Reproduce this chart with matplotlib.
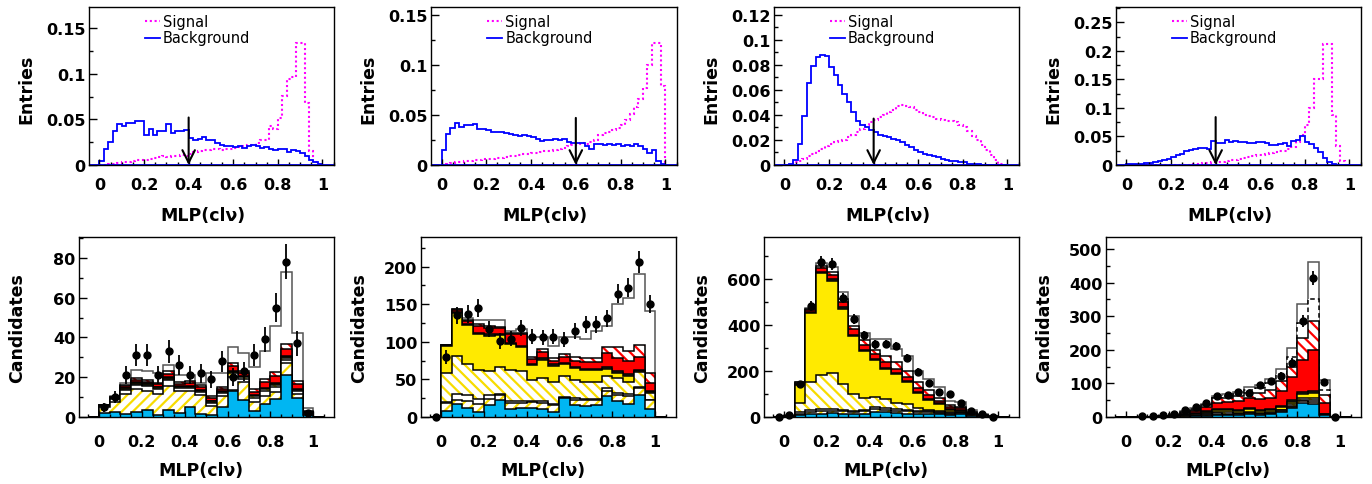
import numpy as np
import matplotlib
matplotlib.use('Agg')
import matplotlib.pyplot as plt
from matplotlib.ticker import MultipleLocator, FuncFormatter

plt.rcParams['font.family'] = ['DejaVu Sans']
plt.rcParams['font.weight'] = 'bold'
plt.rcParams['hatch.linewidth'] = 1.6

# ---------------- top row: normalised MLP output (50 bins, 0..1) ----------------
p1_sig = [0.000, 0.000, 0.001, 0.001, 0.002, 0.003, 0.003, 0.004, 0.005, 0.005,
          0.006, 0.007, 0.008, 0.009, 0.010, 0.009, 0.010, 0.010, 0.011, 0.010,
          0.012, 0.014, 0.015, 0.016, 0.016, 0.017, 0.017, 0.016, 0.018, 0.018,
          0.019, 0.020, 0.021, 0.022, 0.022, 0.024, 0.027, 0.027, 0.043, 0.039,
          0.052, 0.076, 0.094, 0.096, 0.134, 0.134, 0.068, 0.015, 0.003, 0.001]
p1_bkg = [0.004, 0.017, 0.025, 0.037, 0.045, 0.043, 0.046, 0.046, 0.048, 0.048,
          0.033, 0.039, 0.033, 0.037, 0.037, 0.045, 0.035, 0.037, 0.037, 0.038,
          0.030, 0.027, 0.029, 0.031, 0.027, 0.027, 0.024, 0.022, 0.021, 0.021,
          0.020, 0.021, 0.019, 0.021, 0.022, 0.021, 0.019, 0.020, 0.017, 0.016,
          0.018, 0.017, 0.014, 0.016, 0.015, 0.013, 0.010, 0.006, 0.003, 0.001]
p2_sig = [0.000, 0.001, 0.002, 0.003, 0.003, 0.004, 0.004, 0.005, 0.005, 0.006,
          0.006, 0.006, 0.007, 0.007, 0.008, 0.009, 0.009, 0.010, 0.011, 0.011,
          0.012, 0.012, 0.013, 0.014, 0.014, 0.015, 0.016, 0.017, 0.019, 0.020,
          0.021, 0.022, 0.021, 0.023, 0.025, 0.030, 0.032, 0.033, 0.035, 0.037,
          0.040, 0.045, 0.051, 0.058, 0.066, 0.077, 0.100, 0.122, 0.122, 0.079]
p2_bkg = [0.015, 0.031, 0.037, 0.042, 0.038, 0.040, 0.040, 0.041, 0.036, 0.036,
          0.035, 0.033, 0.033, 0.033, 0.032, 0.031, 0.030, 0.029, 0.030, 0.029,
          0.028, 0.026, 0.024, 0.025, 0.025, 0.026, 0.025, 0.026, 0.023, 0.022,
          0.022, 0.022, 0.019, 0.016, 0.021, 0.021, 0.020, 0.021, 0.020, 0.021,
          0.019, 0.020, 0.019, 0.021, 0.019, 0.016, 0.012, 0.015, 0.004, 0.001]
p3_sig = [0.000, 0.000, 0.002, 0.003, 0.005, 0.007, 0.009, 0.011, 0.013, 0.015,
          0.017, 0.018, 0.019, 0.020, 0.022, 0.024, 0.026, 0.029, 0.032, 0.034,
          0.036, 0.038, 0.040, 0.042, 0.044, 0.047, 0.048, 0.047, 0.046, 0.044,
          0.042, 0.040, 0.039, 0.038, 0.037, 0.036, 0.035, 0.035, 0.034, 0.032,
          0.030, 0.027, 0.023, 0.020, 0.016, 0.012, 0.008, 0.004, 0.001, 0.000]
p3_bkg = [0.000, 0.001, 0.004, 0.017, 0.039, 0.065, 0.079, 0.086, 0.088, 0.087,
          0.078, 0.072, 0.064, 0.057, 0.050, 0.042, 0.035, 0.032, 0.030, 0.028,
          0.026, 0.024, 0.023, 0.022, 0.021, 0.020, 0.018, 0.016, 0.014, 0.012,
          0.010, 0.009, 0.008, 0.007, 0.006, 0.005, 0.004, 0.003, 0.003, 0.002,
          0.002, 0.001, 0.001, 0.001, 0.000, 0.000, 0.000, 0.000, 0.000, 0.000]
p4_sig = [0, 0, 0, 0, 0, 0, 0, 0, 0, 0,
          0, 0, 0, 0, 0, 0.001, 0.002, 0.003, 0.004, 0.005,
          0.006, 0.006, 0.007, 0.008, 0.009, 0.010, 0.012, 0.014, 0.016, 0.017,
          0.018, 0.019, 0.021, 0.022, 0.024, 0.025, 0.028, 0.031, 0.040, 0.052,
          0.070, 0.100, 0.150, 0.150, 0.213, 0.213, 0.088, 0.034, 0.007, 0.000]
p4_bkg = [0.001, 0.002, 0.002, 0.002, 0.003, 0.004, 0.005, 0.007, 0.009, 0.011,
          0.014, 0.017, 0.020, 0.024, 0.026, 0.028, 0.029, 0.030, 0.028, 0.042,
          0.038, 0.039, 0.043, 0.041, 0.042, 0.040, 0.041, 0.039, 0.038, 0.041,
          0.040, 0.038, 0.035, 0.035, 0.036, 0.038, 0.034, 0.042, 0.044, 0.050,
          0.040, 0.037, 0.030, 0.022, 0.012, 0.005, 0.001, 0.000, 0.000, 0.000]

cut_values = [0.4, 0.6, 0.4, 0.4]
arrow_tops = [0.052, 0.047, 0.037, 0.084]
top_ylims = [0.173, 0.1577, 0.126, 0.277]
top_ymajor = [0.05, 0.05, 0.02, 0.05]

# ---------------- bottom row: stacked MC + data (bins 0..1, width 0.05) ----------------
# cumulative stack tops, bottom layer first
p1_cyan = [2.2, 2.7, 1.7, 2.5, 3.5, 0.8, 3.5, 2.2, 4.9, 1.3, 0.8, 5.0, 13.0, 8.5, 2.8, 6.4, 9.0, 21.0, 9.5, 0.8]
p1_yfwd = [5.0, 7.5, 11.4, 14.0, 13.0, 11.4, 15.4, 13.0, 13.0, 11.0, 5.5, 10.5, 13.5, 17.5, 7.5, 10.5, 12.5, 27.0, 11.5, 1.5]
p1_white = [5.4, 8.9, 13.4, 16.0, 15.5, 14.0, 18.5, 14.5, 14.5, 12.5, 7.0, 12.0, 20.0, 19.0, 9.5, 13.0, 15.0, 28.5, 13.0, 2.0]
p1_ybwd = [5.6, 9.3, 14.2, 16.8, 16.2, 14.6, 19.2, 15.0, 15.0, 13.0, 7.5, 12.5, 22.0, 20.0, 10.5, 14.0, 16.0, 29.5, 13.5, 2.2]
p1_ysolid = [5.7, 9.5, 14.5, 17.1, 16.5, 14.9, 19.5, 15.3, 15.3, 13.3, 7.8, 12.8, 22.4, 20.3, 10.8, 14.3, 16.4, 30.0, 13.8, 2.3]
p1_dark = [5.8, 9.7, 14.8, 17.5, 16.9, 15.3, 19.9, 15.7, 15.7, 13.7, 8.2, 13.2, 23.0, 20.7, 11.2, 14.8, 17.0, 30.8, 14.2, 2.4]
p1_red = [5.9, 10.0, 15.5, 18.6, 17.8, 16.5, 21.5, 16.6, 17.0, 15.3, 9.5, 14.0, 25.5, 22.0, 12.4, 17.8, 20.5, 34.0, 16.5, 2.6]
p1_rhatch = [6.0, 10.2, 16.0, 19.5, 18.7, 17.2, 23.0, 17.5, 18.0, 16.0, 10.5, 15.0, 27.0, 23.0, 14.0, 19.2, 22.6, 36.5, 18.0, 2.8]
p1_total = [6.2, 10.5, 17.0, 23.4, 23.1, 22.0, 26.0, 21.0, 21.0, 17.0, 22.0, 22.0, 35.0, 32.0, 25.0, 33.0, 46.0, 73.0, 42.0, 4.5]

p2_cyan = [7.5, 17.7, 12, 6.6, 15.5, 22, 10, 12, 12, 10, 6.6, 25, 15.5, 14.6, 15.5, 28, 21, 17.7, 28.8, 10]
p2_yfwd = [19, 23, 21, 17, 24, 29, 19, 19, 20, 19, 15.5, 25.5, 23, 22, 22, 35, 29, 28, 38, 22]
p2_white = [20, 30, 29, 24, 29, 31, 21, 21, 21, 21, 17, 27, 25, 24, 24, 38, 32, 31, 40, 23]
p2_ybwd = [59, 81, 71, 63, 61, 66, 63, 61, 49, 52, 46, 54, 49, 47, 46, 54, 52, 47, 60, 32]
p2_ysolid = [95, 138, 122, 110, 108, 109, 97, 93, 69, 76, 68, 70, 65, 62, 62, 64, 59, 55, 61, 33]
p2_dark = [96, 140, 124, 112, 110, 111, 99, 95, 71, 78, 70, 72, 67, 64, 64, 66, 61, 57, 63, 34]
p2_red = [96, 142, 128, 121, 118, 118, 110, 110, 77, 86, 75, 80, 75, 73, 73, 85, 79, 74, 80, 45]
p2_rhatch = [96, 143, 129, 123, 121, 120, 112, 112, 80, 90, 78, 84, 80, 78, 78, 93, 93, 88, 96, 59]
p2_total = [96, 144, 131, 129, 129, 129, 114, 117, 106, 106, 95, 106, 106, 104, 114, 121, 150, 158, 190, 141]

p3_cyan = [1, 8, 14, 14, 17, 15, 12, 14, 22, 20, 17, 15, 15, 14, 14, 10, 12, 5, 2, 0.5]
p3_yfwd = [2, 15, 22, 24, 27, 25, 20, 25, 35, 32, 28, 25, 22, 20, 18, 15, 16, 8, 3, 1]
p3_white = [2.5, 22, 30, 33, 35, 32, 28, 32, 42, 40, 34, 30, 27, 25, 23, 19, 19, 10, 4, 1.2]
p3_ybwd = [3, 61, 150, 181, 191, 142, 101, 82, 87, 78, 62, 55, 40, 32, 27, 21, 20, 11, 4.5, 1.4]
p3_ysolid = [3.5, 140, 451, 625, 593, 470, 350, 285, 246, 210, 188, 152, 106, 75, 58, 30, 26, 13, 5, 1.6]
p3_dark = [4, 145, 455, 632, 600, 476, 356, 290, 250, 214, 192, 156, 110, 79, 61, 33, 29, 15, 6, 1.8]
p3_red = [5, 149, 465, 646, 619, 499, 383, 314, 272, 241, 210, 174, 127, 97, 69, 43, 37, 19, 8, 2]
p3_rhatch = [6, 151, 470, 655, 628, 513, 395, 333, 292, 265, 239, 202, 152, 116, 82, 51, 45, 23, 10, 2.5]
p3_total = [10, 152, 473, 668, 651, 542, 438, 366, 337, 337, 296, 265, 202, 166, 130, 68, 65, 29, 14, 4]

p4_cyan = [0, 0, 0, 0.2, 0.5, 1, 2, 3, 5, 5, 6, 10, 7, 8, 15, 28, 42, 40, 5, 0]
p4_yfwd = [0, 0, 0.1, 0.5, 1.5, 3, 4, 6, 7, 7, 8, 11, 8, 10, 18, 31, 47, 45, 5.5, 0]
p4_white = [0, 0, 0.2, 0.8, 2, 4, 6, 9, 11, 10, 10, 13, 10, 12, 20, 33, 52, 50, 6, 0]
p4_ybwd = [0, 0, 0.2, 1, 2.5, 5, 8, 12, 15, 14, 13, 16, 12, 15, 22, 38, 58, 58, 7, 0]
p4_ysolid = [0, 0, 0.3, 1.2, 3, 6, 10, 15, 22, 21, 19, 23, 17, 21, 29, 45, 68, 72, 8, 0]
p4_dark = [0, 0, 0.4, 1.5, 3.5, 7, 12, 17, 25, 24, 22, 27, 20, 24, 33, 52, 75, 76, 10, 0]
p4_red = [0, 0, 0.6, 2, 5, 10, 18, 30, 42, 45, 48, 57, 53, 58, 78, 118, 170, 198, 42, 0]
p4_rhatch = [0, 0, 0.8, 2.5, 7, 13, 22, 35, 56, 57, 62, 72, 70, 80, 106, 150, 235, 287, 65, 0]
p4_dashed = [0, 0, 1, 3, 8, 15, 24, 37, 58, 62, 68, 80, 86, 100, 128, 178, 280, 350, 80, 0]
p4_total = [0, 0, 1, 4, 9, 17, 27, 40, 63, 68, 75, 90, 95, 112, 142, 205, 337, 460, 109, 0]

nan = np.nan
# data at bin centres -0.025 ... 1.025
p1_data = [nan, 5, 10, 21, 31, 31, 21, 33, 26, 21, 22, 19, 28, 20, 23, 31, 39, 55, 78, 37, 2, nan]
p2_data = [0, 80, 135, 137, 145, 117, 101, 104, 118, 107, 106, 107, 103, 114, 123, 123, 131, 164, 172, 206, 150, nan]
p3_data = [0, 10, 143, 482, 675, 665, 518, 425, 355, 315, 318, 310, 258, 197, 148, 107, 98, 62, 25, 12, 2, nan]
p4_data = [nan, nan, 2, 2, 6, 10, 20, 29, 43, 62, 65, 75, 72, 94, 106, 122, 162, 286, 413, 104, 0, nan]

bot_ylims = [90.5, 239.3, 782, 535.6]
bot_ymajor = [20, 50, 200, 100]

x_label = 'MLP(cl\u03bd)'

# ---------------- layout ----------------
W, H = 1372, 485
fig = plt.figure(figsize=(W / 100, H / 100), dpi=100)


def add_ax(l, t, r, b):
    return fig.add_axes([l / W, 1 - b / H, (r - l) / W, (b - t) / H])


top_left = [89, 431, 774, 1116]
top_right = [334, 677, 1019, 1361]
bot_left = [79, 421, 764, 1106]
bot_right = [334, 676, 1019, 1361]


def fmt(v, pos):
    v = round(v, 6)
    if abs(v) < 1e-9:
        return '0'
    return f'{v:g}'


def style(ax, ymaj, xpad):
    ax.xaxis.set_major_locator(MultipleLocator(0.2))
    ax.xaxis.set_minor_locator(MultipleLocator(0.05))
    ax.yaxis.set_major_locator(MultipleLocator(ymaj))
    ax.yaxis.set_minor_locator(MultipleLocator(ymaj / 2))
    ax.xaxis.set_major_formatter(FuncFormatter(fmt))
    ax.yaxis.set_major_formatter(FuncFormatter(fmt))
    ax.tick_params(which='both', direction='in', top=False, right=False, width=1,
                   labelsize=11.5)
    ax.tick_params(axis='x', which='major', length=4.5, pad=xpad)
    ax.tick_params(axis='x', which='minor', length=2.5)
    ax.tick_params(axis='y', which='major', length=6, pad=2.5)
    ax.tick_params(axis='y', which='minor', length=3)
    for s in ax.spines.values():
        s.set_linewidth(1.0)
        s.set_color('black')


edges_top = np.linspace(0, 1, 51)
sig_list = [p1_sig, p2_sig, p3_sig, p4_sig]
bkg_list = [p1_bkg, p2_bkg, p3_bkg, p4_bkg]

for i in range(4):
    ax = add_ax(top_left[i], 8, top_right[i], 166)
    ax.set_xlim(-0.047, 1.052)
    ax.set_ylim(0, top_ylims[i])
    ax.axhline(0, color='#0000ff', lw=1.3)
    ax.stairs(sig_list[i], edges_top, color='#ff00ff', lw=1.5, ls=(0, (1, 1.3)))
    ax.stairs(bkg_list[i], edges_top, color='#0000ff', lw=1.3)
    ax.annotate('', xy=(cut_values[i], 0), xytext=(cut_values[i], arrow_tops[i]),
                arrowprops=dict(arrowstyle='->,head_length=0.9,head_width=0.45',
                                lw=1.5, color='black', shrinkA=0, shrinkB=0,
                                mutation_scale=10))
    # legend
    ax.plot([0.229, 0.29], [0.911, 0.911], transform=ax.transAxes,
            color='#ff00ff', ls=(0, (1, 1.3)), lw=1.5)
    ax.plot([0.229, 0.29], [0.804, 0.804], transform=ax.transAxes,
            color='#0000ff', lw=1.3)
    ax.text(0.302, 0.911, 'Signal', transform=ax.transAxes, ha='left', va='center',
            fontsize=10.5, fontweight='normal')
    ax.text(0.302, 0.804, 'Background', transform=ax.transAxes, ha='left', va='center',
            fontsize=10.5, fontweight='normal')
    style(ax, top_ymajor[i], 9)
    fig.text((top_left[i] - 63) / W, 1 - 89 / H, 'Entries', rotation=90,
             ha='center', va='center', fontsize=12.5, fontweight='bold')
    fig.text((top_left[i] + 114) / W, 1 - 216 / H, x_label,
             ha='center', va='center', fontsize=12.5, fontweight='bold')

# ---------------- bottom row ----------------
edges_bot = np.linspace(-0.05, 1.05, 23)
centers = 0.5 * (edges_bot[:-1] + edges_bot[1:])

CYAN = '#00b6f2'
YEL = '#ffea00'
YHATCH = '#f7dc00'
RED = '#ff0000'
DARK = '#3a3a1c'

# (face, hatch, hatch colour, outline colour, outline style)
layer_style = {
    'cyan': (CYAN, None, None, 'black', '-'),
    'yfwd': ('white', '///', YHATCH, 'black', '-'),
    'white': ('white', None, None, 'black', '-'),
    'ybwd': ('white', '\\\\\\', YHATCH, 'black', '-'),
    'ysolid': (YEL, None, None, 'black', '-'),
    'dark': (DARK, None, None, 'black', '-'),
    'red': (RED, None, None, 'black', '-'),
    'rhatch': ('white', '\\\\\\', RED, 'black', '-'),
    'dashed': ('white', None, None, 'black', (0, (3, 2))),
    'total': ('white', None, None, '#555555', '-'),
}

panels = [
    [('cyan', p1_cyan), ('yfwd', p1_yfwd), ('white', p1_white), ('ybwd', p1_ybwd),
     ('ysolid', p1_ysolid), ('dark', p1_dark), ('red', p1_red), ('rhatch', p1_rhatch),
     ('total', p1_total)],
    [('cyan', p2_cyan), ('yfwd', p2_yfwd), ('white', p2_white), ('ybwd', p2_ybwd),
     ('ysolid', p2_ysolid), ('dark', p2_dark), ('red', p2_red), ('rhatch', p2_rhatch),
     ('total', p2_total)],
    [('cyan', p3_cyan), ('yfwd', p3_yfwd), ('white', p3_white), ('ybwd', p3_ybwd),
     ('ysolid', p3_ysolid), ('dark', p3_dark), ('red', p3_red), ('rhatch', p3_rhatch),
     ('total', p3_total)],
    [('cyan', p4_cyan), ('yfwd', p4_yfwd), ('white', p4_white), ('ybwd', p4_ybwd),
     ('ysolid', p4_ysolid), ('dark', p4_dark), ('red', p4_red), ('rhatch', p4_rhatch),
     ('dashed', p4_dashed), ('total', p4_total)],
]
data_list = [p1_data, p2_data, p3_data, p4_data]

for i in range(4):
    ax = add_ax(bot_left[i], 238, bot_right[i], 418)
    ax.set_xlim(-0.093, 1.097)
    ax.set_ylim(0, bot_ylims[i])
    for name, level in reversed(panels[i]):
        face, hatch, hcol, ecol, ls = layer_style[name]
        vals = np.concatenate([[0.0], np.asarray(level, float), [0.0]])
        ax.stairs(vals, edges_bot, baseline=0, fill=True, facecolor=face,
                  edgecolor=(hcol if hcol else face), hatch=hatch, lw=0)
        ax.stairs(vals, edges_bot, baseline=0, color=ecol, lw=1.1, ls=ls)
    d = np.asarray(data_list[i], float)
    ax.errorbar(centers, d, yerr=np.sqrt(d), fmt='o', color='black', ms=5,
                elinewidth=1.3, capsize=0, zorder=6, clip_on=False)
    style(ax, bot_ymajor[i], 12)
    fig.text((bot_left[i] - 62) / W, 1 - 328 / H, 'Candidates', rotation=90,
             ha='center', va='center', fontsize=12.5, fontweight='bold')
    fig.text((bot_left[i] + 122) / W, 1 - 471 / H, x_label,
             ha='center', va='center', fontsize=12.5, fontweight='bold')

fig.savefig('out.png', dpi=100)
